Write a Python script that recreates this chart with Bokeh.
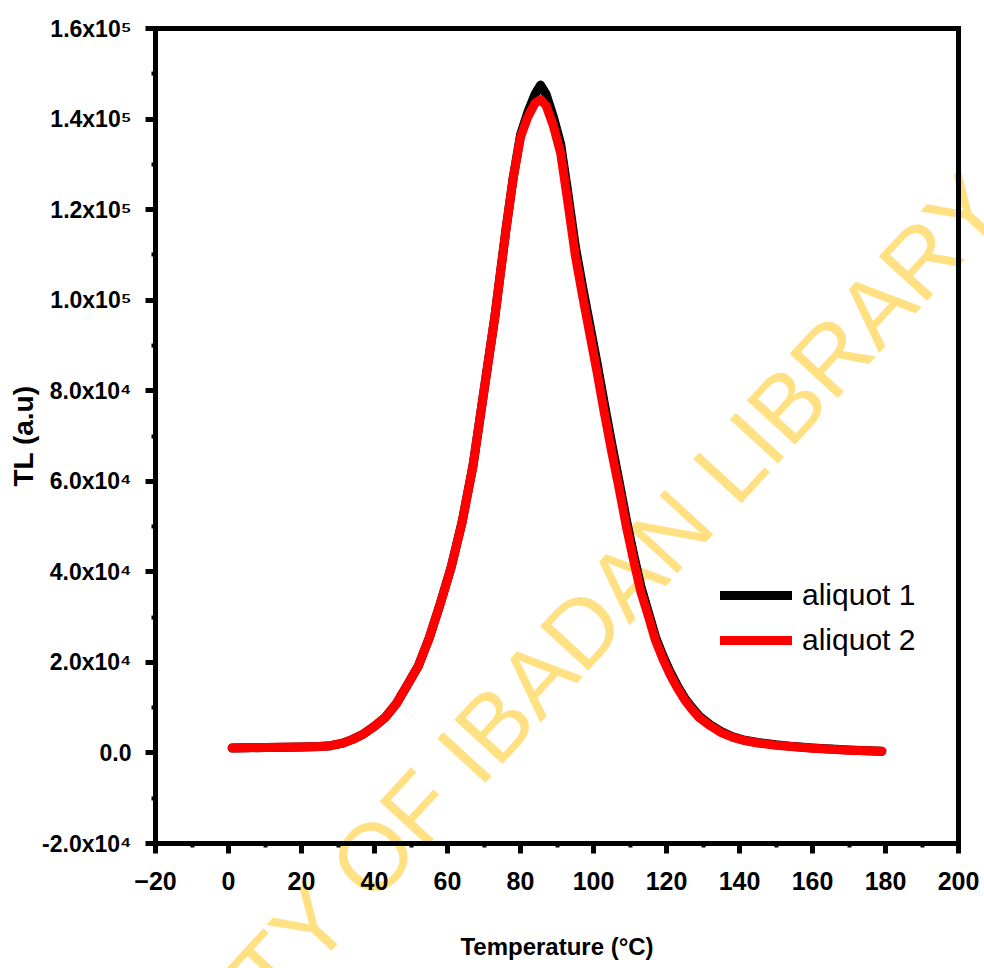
from bokeh.plotting import figure
from bokeh.models import Label, Legend, LegendItem, FixedTicker, LinearAxis
from bokeh.embed import file_html
from bokeh.resources import INLINE

# ---------------- data ----------------
temperature = [1, 5, 10, 15, 20, 25, 28, 31, 34, 37, 40, 43, 46, 49, 52, 55, 58, 61, 64, 67,
               70, 73, 76, 78, 80, 82, 84, 85.5, 87, 89, 91, 93, 95, 97, 99, 101, 103, 105,
               107, 109, 111, 113, 115, 117, 119, 121, 123, 125, 127, 129, 132, 135, 138,
               141, 145, 150, 155, 160, 165, 170, 175, 179]

aliquot_1 = [1100, 1150, 1200, 1250, 1300, 1400, 1600, 2100, 3000, 4200, 5900, 7900, 10900,
             15000, 19200, 25400, 32900, 41000, 51000, 63500, 80000, 96500, 115500, 127000,
             136500, 141500, 145500, 147500, 145500, 140500, 134500, 123500, 112000, 103000,
             94500, 86000, 77000, 68300, 60000, 51500, 43800, 36700, 31200, 25600, 21500,
             17900, 14800, 12100, 10000, 8100, 6200, 4700, 3600, 2900, 2300, 1800, 1400,
             1100, 850, 650, 500, 400]

aliquot_2 = [1100, 1150, 1200, 1250, 1300, 1400, 1600, 2100, 3000, 4200, 5900, 7900, 10900,
             15000, 19200, 25400, 32900, 41000, 51000, 63500, 80000, 96500, 115500, 127000,
             136000, 140500, 143500, 144300, 143000, 138500, 132500, 121500, 110000, 101000,
             92500, 84000, 75000, 66500, 58500, 50000, 42500, 35500, 30300, 24800, 20800,
             17300, 14300, 11700, 9600, 7800, 6000, 4500, 3500, 2800, 2200, 1700, 1350,
             1050, 800, 620, 480, 380]

series_names = ["aliquot 1", "aliquot 2"]
series_colors = ["#000000", "#ff0000"]

x_ticks = [-20, 0, 20, 40, 60, 80, 100, 120, 140, 160, 180, 200]
x_minor = [-10, 10, 30, 50, 70, 90, 110, 130, 150, 170, 190]
y_ticks = [-20000, 0, 20000, 40000, 60000, 80000, 100000, 120000, 140000, 160000]
y_minor = [-10000, 10000, 30000, 50000, 70000, 90000, 110000, 130000, 150000]
y_tick_labels = ["-2.0x10\u2074", "0.0", "2.0x10\u2074", "4.0x10\u2074", "6.0x10\u2074",
                 "8.0x10\u2074", "1.0x10\u2075", "1.2x10\u2075", "1.4x10\u2075", "1.6x10\u2075"]

x_label = "Temperature (\u00b0C)"
y_label = "TL (a.u)"
watermark = "UNIVERSITY OF IBADAN LIBRARY"

FONT = "Liberation Sans"

# ---------------- layout (pixels) ----------------
W, H = 984, 968
PL, PR, PT, PB = 155, 958, 28, 843          # axes box in canvas pixels
X0, X1 = x_ticks[0], x_ticks[-1]
Y0, Y1 = y_ticks[0], y_ticks[-1]
sx = (PR - PL) / (X1 - X0)
sy = (PB - PT) / (Y1 - Y0)
x_range = (X0 - PL / sx, X1 + (W - PR) / sx)
y_range = (Y0 - (H - PB) / sy, Y1 + PT / sy)

p = figure(width=W, height=H, x_range=x_range, y_range=y_range,
           x_axis_location=None, y_axis_location=None,
           output_backend="svg", toolbar_location=None,
           min_border=0)
p.title.visible = False
p.background_fill_color = "white"
p.border_fill_color = "white"
p.outline_line_color = None
p.grid.visible = False

# watermark
wm = Label(x=466, y=H - 754, x_units="screen", y_units="screen", text=watermark,
           angle=47.5, angle_units="deg", text_align="center", text_baseline="middle",
           text_font=FONT, text_font_size="95px", text_color="#FFE082",
           level="underlay")
p.add_layout(wm)

renderers = []
for ys, name, col in zip([aliquot_1, aliquot_2], series_names, series_colors):
    r = p.line(temperature, ys, line_color=col, line_width=9, line_join="round", line_cap="round")
    renderers.append(r)

legend = Legend(items=[LegendItem(label=n, renderers=[r]) for n, r in zip(series_names, renderers)],
                location=(720, 310), orientation="vertical",
                background_fill_alpha=0, border_line_alpha=0,
                label_text_font=FONT, label_text_font_size="30px", label_text_color="black",
                glyph_width=72, glyph_height=36, label_height=36, spacing=9,
                label_standoff=10, padding=0, margin=0)
p.add_layout(legend, "center")


def style_axis(ax):
    ax.axis_line_width = 5
    ax.axis_line_color = "black"
    ax.axis_line_cap = "square"
    ax.major_tick_line_width = 5
    ax.major_tick_out = 10
    ax.major_tick_in = 0
    ax.minor_tick_line_width = 4
    ax.minor_tick_out = 4
    ax.minor_tick_in = 0
    ax.major_label_text_font = FONT
    ax.major_label_text_font_style = "bold"
    ax.major_label_text_color = "black"
    ax.axis_label_text_font = FONT
    ax.axis_label_text_font_style = "bold"
    ax.axis_label_text_font_size = "24px"
    ax.axis_label_text_color = "black"


xaxis = LinearAxis(fixed_location=Y0, bounds=(X0, X1),
                   ticker=FixedTicker(ticks=x_ticks, minor_ticks=x_minor),
                   axis_label=x_label)
style_axis(xaxis)
xaxis.major_label_text_font_size = "25px"
xaxis.major_label_standoff = 18
xaxis.axis_label_standoff = 40
p.add_layout(xaxis, "below")

yaxis = LinearAxis(fixed_location=X0, bounds=(Y0, Y1),
                   ticker=FixedTicker(ticks=y_ticks, minor_ticks=y_minor),
                   axis_label=y_label)
style_axis(yaxis)
yaxis.axis_label_text_font_size = "28px"
yaxis.major_label_text_font_size = "23px"
yaxis.major_label_overrides = {t: lab for t, lab in zip(y_ticks, y_tick_labels)}
yaxis.major_label_standoff = 14
yaxis.axis_label_standoff = 0
p.add_layout(yaxis, "left")

# top and right frame lines
for side, loc, bnds in (("above", Y1, (X0, X1)), ("right", X1, (Y0, Y1))):
    b = LinearAxis(fixed_location=loc, bounds=bnds, ticker=FixedTicker(ticks=[]))
    b.axis_line_width = 5
    b.axis_line_color = "black"
    b.axis_line_cap = "square"
    b.major_tick_line_color = None
    b.minor_tick_line_color = None
    b.major_label_text_font_size = "0px"
    p.add_layout(b, side)

open("out.html", "w").write(file_html(p, INLINE))
